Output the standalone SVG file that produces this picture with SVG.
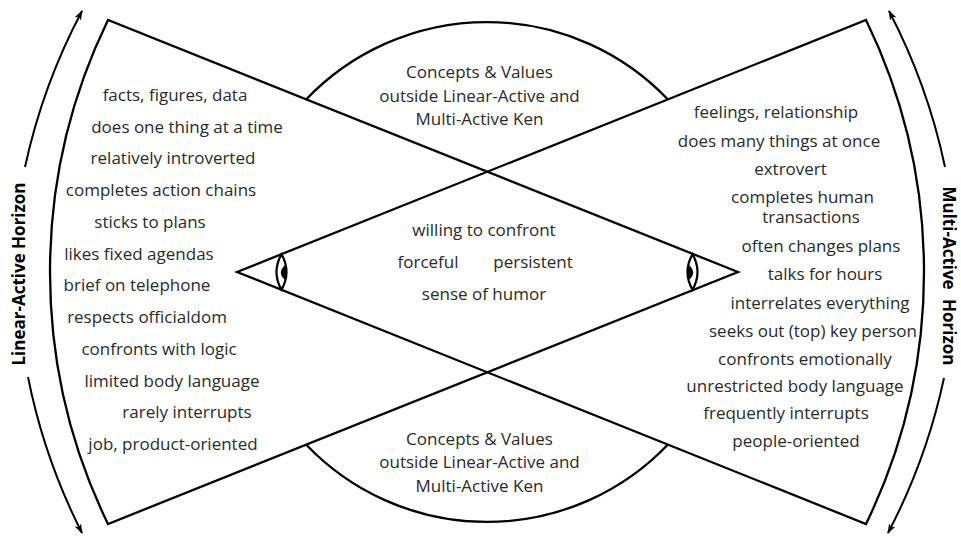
<svg xmlns="http://www.w3.org/2000/svg" xmlns:xlink="http://www.w3.org/1999/xlink" width="961" height="537" viewBox="0 0 961 537">
<style>
.ln{fill:none;stroke:#000;stroke-width:2.3;stroke-linejoin:miter}
.arr{fill:none;stroke:#000;stroke-width:2}
.t{font-family:"Open Sans","DejaVu Sans",sans-serif;font-size:17px;fill:#2a2a2a;text-anchor:middle}
.lab{font-family:"Open Sans","DejaVu Sans",sans-serif;font-size:17px;font-weight:bold;fill:#000;text-anchor:middle}
</style>
<defs>
<marker id="ah" markerWidth="12" markerHeight="8" refX="9" refY="4" orient="auto" markerUnits="userSpaceOnUse">
<path d="M0,0.5 L10,4 L0,7.5 L2.5,4 Z" fill="#000"/>
</marker>
<g id="eye">
<path d="M0,-17.8 Q-10,0 0,17.8 Q10,0 0,-17.8 Z" fill="#fff" stroke="#000" stroke-width="2.2"/>
<path d="M4.3,-7.5 Q-5.5,0.5 4.2,8.5 Q6.2,0.5 4.3,-7.5 Z" fill="#000"/>
</g>
</defs>
<rect width="961" height="537" fill="#fff"/>

<g id="circle-top">
<path class="ln" d="M306.3,99.3 A250,250 0 0 1 667.7,99.3"/>
<text class="t" x="479.5" y="78">Concepts &amp; Values</text>
<text class="t" x="479.5" y="101.5">outside Linear-Active and</text>
<text class="t" x="479.5" y="125">Multi-Active Ken</text>
</g>
<g id="circle-bottom">
<path class="ln" d="M306.3,444.7 A250,250 0 0 0 667.7,444.7"/>
<text class="t" x="479.5" y="444.5">Concepts &amp; Values</text>
<text class="t" x="479.5" y="467.5">outside Linear-Active and</text>
<text class="t" x="479.5" y="491.5">Multi-Active Ken</text>
</g>

<g id="linear-active">
<path class="ln" d="M738,272 L108,20 A576.4,576.4 0 0 0 108,524 Z"/>
<use xlink:href="#eye" href="#eye" transform="translate(692.5,272) scale(-1,1)"/>
<text class="t" x="175" y="101">facts, figures, data</text>
<text class="t" x="187" y="132.7">does one thing at a time</text>
<text class="t" x="173" y="164.4">relatively introverted</text>
<text class="t" x="161" y="196.2">completes action chains</text>
<text class="t" x="150" y="227.9">sticks to plans</text>
<text class="t" x="139" y="259.6">likes fixed agendas</text>
<text class="t" x="137" y="291.3">brief on telephone</text>
<text class="t" x="147" y="323">respects officialdom</text>
<text class="t" x="159" y="354.8">confronts with logic</text>
<text class="t" x="172" y="386.5">limited body language</text>
<text class="t" x="187" y="418.2">rarely interrupts</text>
<text class="t" x="173" y="449.9">job, product-oriented</text>
</g>

<g id="multi-active">
<path class="ln" d="M237,272 L866,20 A576.4,576.4 0 0 1 866,524 Z"/>
<use xlink:href="#eye" href="#eye" transform="translate(281.5,272)"/>
<text class="t" x="776" y="118">feelings, relationship</text>
<text class="t" x="779" y="147">does many things at once</text>
<text class="t" x="790.5" y="175">extrovert</text>
<text class="t"><tspan x="802.5" y="202.5">completes human</tspan><tspan x="811" y="223">transactions</tspan></text>
<text class="t" x="821" y="251.7">often changes plans</text>
<text class="t" x="825" y="280.3">talks for hours</text>
<text class="t" x="820" y="308.7">interrelates everything</text>
<text class="t" x="813" y="337">seeks out (top) key person</text>
<text class="t" x="805" y="365.3">confronts emotionally</text>
<text class="t" x="795" y="392">unrestricted body language</text>
<text class="t" x="786" y="418.7">frequently interrupts</text>
<text class="t" x="796" y="447">people-oriented</text>
</g>

<g id="common">
<text class="t" x="484" y="236">willing to confront</text>
<text class="t" x="428" y="267.7">forceful</text>
<text class="t" x="533" y="267.7">persistent</text>
<text class="t" x="484" y="300">sense of humor</text>
</g>

<g id="label-linear">
<text class="lab" transform="translate(25,274) rotate(-90)">Linear-Active Horizon</text>
</g>
<g id="label-multi">
<text class="lab" transform="translate(943,276) rotate(90)" word-spacing="5">Multi-Active Horizon</text>
</g>

<g id="connectors">
<path class="arr" marker-end="url(#ah)" d="M25,167 A607,607 0 0 1 82,11"/>
<path class="arr" marker-end="url(#ah)" d="M28,377 A607,607 0 0 0 82,533"/>
<path class="arr" marker-end="url(#ah)" d="M945,167 A607,607 0 0 0 889,11"/>
<path class="arr" marker-end="url(#ah)" d="M944,378 A607,607 0 0 1 888,533"/>
</g>
</svg>
